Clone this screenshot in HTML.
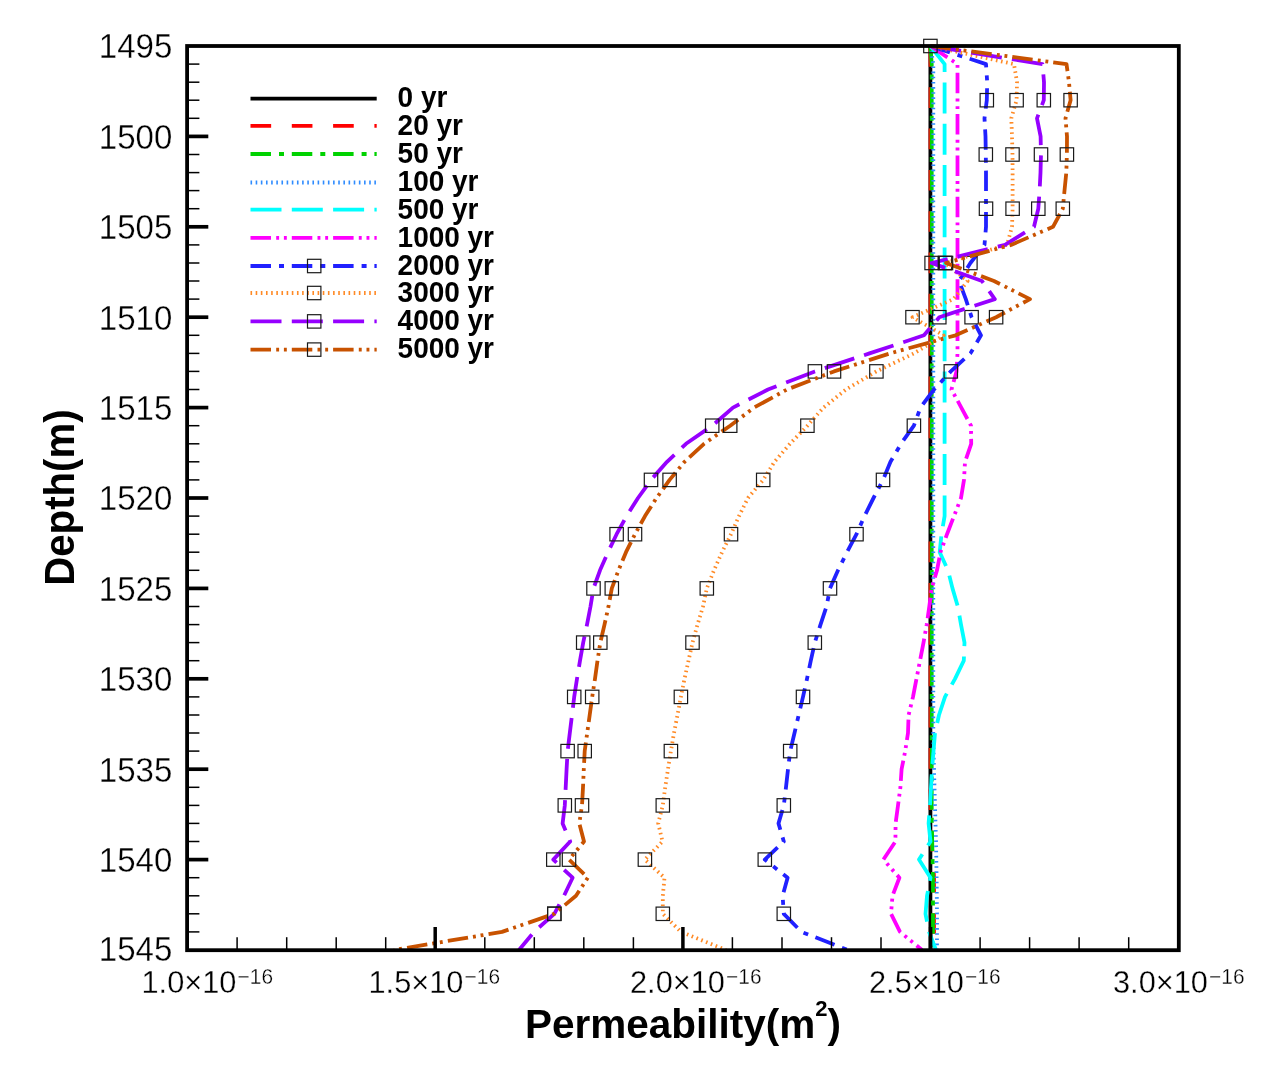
<!DOCTYPE html>
<html lang="en"><head><meta charset="utf-8"><title>Permeability vs Depth</title>
<style>html,body{margin:0;padding:0;background:#fff}svg{display:block}text{font-family:"Liberation Sans",sans-serif;fill:#000}.tk{font-size:35.6px;stroke:#fff;stroke-width:.35px}.xk{font-size:31.8px;stroke:#fff;stroke-width:.3px}.sup{font-size:21.6px}.ttl{font-size:40px;font-weight:bold}.lg{font-size:29.2px;font-weight:bold}.ln{fill:none;stroke-linecap:butt;stroke-linejoin:round}.mk{fill:none;stroke:#1a1a1a;stroke-width:1.2}</style></head><body>
<svg width="1274" height="1067" viewBox="0 0 1274 1067">
<rect width="1274" height="1067" fill="#fff"/>
<defs><clipPath id="pc"><rect x="187.1" y="38.0" width="991.7" height="912.2"/></clipPath></defs>
<g clip-path="url(#pc)">
<polyline class="ln" points="930.4,46.0 930.4,64.1 930.4,82.2 930.4,100.2 930.4,118.3 930.4,136.4 930.4,154.5 930.4,172.6 930.4,190.6 930.4,208.7 930.4,226.8 930.4,244.9 930.4,263.0 930.4,281.0 930.4,299.1 930.4,317.2 930.4,335.3 930.4,353.4 930.4,371.4 930.4,389.5 930.4,407.6 930.4,425.7 930.4,443.8 930.4,461.8 930.4,479.9 930.4,498.0 930.4,516.1 930.4,534.2 930.4,552.2 930.4,570.3 930.4,588.4 930.4,606.5 930.4,624.6 930.4,642.6 930.4,660.7 930.4,678.8 930.4,696.9 930.4,715.0 930.4,733.0 930.4,751.1 930.4,769.2 930.4,787.3 930.4,805.4 930.4,823.4 930.4,841.5 930.4,859.6 930.4,877.7 930.4,895.8 930.4,913.8 930.4,931.9 930.4,950.0" stroke="#000000" stroke-width="3.8"/>
<polyline class="ln" points="930.4,46.0 930.5,64.1 930.5,82.2 930.5,100.2 930.5,118.3 930.5,136.4 930.5,154.5 930.5,172.6 930.5,190.6 930.5,208.7 930.5,226.8 930.5,244.9 930.5,263.0 930.5,281.0 930.5,299.1 930.5,317.2 930.5,335.3 930.5,353.4 930.5,371.4 930.5,389.5 930.5,407.6 930.5,425.7 930.5,443.8 930.5,461.8 930.5,479.9 930.5,498.0 930.5,516.1 930.5,534.2 930.5,552.2 930.5,570.3 930.5,588.4 930.5,606.5 930.5,624.6 930.5,642.6 930.5,660.7 930.5,678.8 930.5,696.9 930.5,715.0 930.5,733.0 930.5,751.1 930.5,769.2 930.5,787.3 930.5,805.4 930.6,823.4 931.5,841.5 933.0,859.6 934.0,877.7 934.0,895.8 934.0,913.8 934.0,931.9 934.0,950.0" stroke="#ff0000" stroke-width="3.8" stroke-dasharray="20.65 20.65"/>
<polyline class="ln" points="930.4,46.0 931.7,64.1 931.7,82.2 931.7,100.2 931.7,118.3 931.7,136.4 931.7,154.5 931.7,172.6 931.7,190.6 931.7,208.7 931.7,226.8 931.7,244.9 931.7,263.0 931.7,281.0 931.7,299.1 931.7,317.2 931.7,335.3 931.7,353.4 931.7,371.4 931.7,389.5 931.7,407.6 931.7,425.7 931.7,443.8 931.7,461.8 931.7,479.9 931.7,498.0 931.7,516.1 931.7,534.2 931.7,552.2 931.7,570.3 931.7,588.4 931.7,606.5 931.7,624.6 931.7,642.6 931.7,660.7 931.7,678.8 931.7,696.9 931.7,715.0 931.7,733.0 931.7,751.1 931.7,769.2 931.7,787.3 931.7,805.4 931.9,823.4 932.2,841.5 932.6,859.6 933.0,877.7 933.0,895.8 933.0,913.8 933.0,931.9 933.0,950.0" stroke="#00d200" stroke-width="3.8" stroke-dasharray="20.50 8.00 5.00 7.80"/>
<polyline class="ln" points="930.4,46.0 933.3,64.1 933.3,82.2 933.3,100.2 933.3,118.3 933.3,136.4 933.3,154.5 933.3,172.6 933.3,190.6 933.3,208.7 933.3,226.8 933.3,244.9 933.3,263.0 933.3,281.0 933.3,299.1 933.3,317.2 933.3,335.3 933.3,353.4 933.3,371.4 933.3,389.5 933.3,407.6 933.3,425.7 933.3,443.8 933.3,461.8 933.3,479.9 933.3,498.0 933.3,516.1 933.3,534.2 933.3,552.2 933.3,570.3 933.3,588.4 933.3,606.5 933.3,624.6 933.3,642.6 933.3,660.7 933.3,678.8 933.3,696.9 933.3,715.0 933.3,733.0 933.6,751.1 934.0,769.2 934.5,787.3 935.0,805.4 935.5,823.4 936.0,841.5 936.3,859.6 936.6,877.7 936.8,895.8 937.0,913.8 937.0,931.9 937.0,950.0" stroke="#2f8cff" stroke-width="3.8" stroke-dasharray="1.60 3.56"/>
<polyline class="ln" points="930.4,46.0 944.6,64.1 944.6,82.2 944.6,100.2 944.6,118.3 944.6,136.4 944.6,154.5 944.6,172.6 944.6,190.6 944.6,208.7 944.6,226.8 944.6,244.9 944.6,263.0 944.6,281.0 944.6,299.1 944.6,317.2 944.6,335.3 944.6,353.4 944.6,371.4 944.6,389.5 944.6,407.6 944.6,425.7 944.6,443.8 944.6,461.8 944.6,479.9 944.6,498.0 944.6,516.1 941.5,534.2 939.7,552.2 948.0,570.3 952.5,588.4 957.8,606.5 961.0,624.6 964.5,642.6 963.8,660.7 955.0,678.8 945.0,696.9 939.0,715.0 935.0,733.0 933.5,751.1 932.0,769.2 931.0,787.3 930.0,805.4 928.6,823.4 930.5,841.5 919.0,859.6 930.5,877.7 927.0,895.8 925.5,913.8 929.0,931.9 936.0,950.0" stroke="#00ffff" stroke-width="3.8" stroke-dasharray="31.00 10.30"/>
<polyline class="ln" points="930.4,46.0 957.5,64.1 957.5,82.2 957.5,100.2 957.5,118.3 957.5,136.4 957.5,154.5 957.5,172.6 957.5,190.6 957.5,208.7 957.5,226.8 957.5,244.9 957.5,263.0 957.5,281.0 957.5,299.1 957.5,317.2 957.5,335.3 957.5,353.4 956.5,371.4 951.5,389.5 961.3,407.6 971.0,425.7 971.2,443.8 965.0,461.8 964.0,479.9 961.0,498.0 954.0,516.1 947.0,534.2 940.5,552.2 937.0,570.3 931.7,588.4 929.3,606.5 926.7,624.6 923.5,642.6 920.0,660.7 916.5,678.8 913.0,696.9 908.6,715.0 908.0,733.0 905.2,751.1 901.6,769.2 900.4,787.3 898.0,805.4 895.6,823.4 895.4,841.5 883.4,859.6 899.4,877.7 892.5,895.8 891.0,913.8 900.0,931.9 922.0,950.0" stroke="#ff00ff" stroke-width="3.8" stroke-dasharray="20.50 5.20 2.90 4.80 2.90 5.00"/>
<polyline class="ln" points="930.4,46.0 986.0,64.1 987.2,82.2 986.8,100.2 984.5,118.3 985.5,136.4 985.8,154.5 986.0,172.6 986.0,190.6 986.0,208.7 986.0,226.8 984.5,244.9 970.4,263.0 959.0,281.0 965.8,299.1 971.6,317.2 981.0,335.3 970.4,353.4 950.8,371.4 934.0,389.5 920.5,407.6 913.9,425.7 901.0,443.8 890.5,461.8 883.0,479.9 873.5,498.0 864.5,516.1 856.5,534.2 847.0,552.2 838.0,570.3 830.0,588.4 826.5,606.5 820.5,624.6 814.8,642.6 810.8,660.7 807.0,678.8 803.0,696.9 798.7,715.0 794.5,733.0 790.2,751.1 788.0,769.2 786.0,787.3 783.8,805.4 778.5,823.4 783.8,841.5 764.8,859.6 787.6,877.7 782.6,895.8 783.8,913.8 801.5,931.9 848.0,950.0" stroke="#2121ff" stroke-width="3.8" stroke-dasharray="20.50 8.00 5.00 7.80"/>
<rect class="mk" x="980.1" y="93.5" width="13.4" height="13.4"/>
<rect class="mk" x="979.1" y="147.8" width="13.4" height="13.4"/>
<rect class="mk" x="979.3" y="202.0" width="13.4" height="13.4"/>
<rect class="mk" x="963.7" y="256.3" width="13.4" height="13.4"/>
<rect class="mk" x="964.9" y="310.5" width="13.4" height="13.4"/>
<rect class="mk" x="944.1" y="364.7" width="13.4" height="13.4"/>
<rect class="mk" x="907.2" y="419.0" width="13.4" height="13.4"/>
<rect class="mk" x="876.3" y="473.2" width="13.4" height="13.4"/>
<rect class="mk" x="849.8" y="527.5" width="13.4" height="13.4"/>
<rect class="mk" x="823.3" y="581.7" width="13.4" height="13.4"/>
<rect class="mk" x="808.1" y="635.9" width="13.4" height="13.4"/>
<rect class="mk" x="796.3" y="690.2" width="13.4" height="13.4"/>
<rect class="mk" x="783.5" y="744.4" width="13.4" height="13.4"/>
<rect class="mk" x="777.1" y="798.7" width="13.4" height="13.4"/>
<rect class="mk" x="758.1" y="852.9" width="13.4" height="13.4"/>
<rect class="mk" x="777.1" y="907.1" width="13.4" height="13.4"/>
<polyline class="ln" points="930.4,46.0 1014.0,64.1 1017.0,82.2 1016.6,100.2 1011.3,118.3 1012.0,136.4 1012.5,154.5 1012.6,172.6 1012.6,190.6 1012.6,208.7 1012.0,226.8 1007.0,244.9 945.0,263.0 967.6,281.0 953.5,299.1 912.5,317.2 943.6,335.3 914.0,353.4 876.4,371.4 846.0,389.5 823.5,407.6 807.4,425.7 790.0,443.8 774.5,461.8 763.2,479.9 748.0,498.0 739.0,516.1 731.0,534.2 722.0,552.2 714.0,570.3 706.8,588.4 703.0,606.5 697.5,624.6 692.5,642.6 688.5,660.7 684.5,678.8 680.9,696.9 677.5,715.0 674.0,733.0 670.9,751.1 668.0,769.2 665.2,787.3 662.8,805.4 658.2,823.4 662.5,841.5 644.9,859.6 664.5,877.7 662.8,895.8 662.8,913.8 681.0,931.9 726.0,950.0" stroke="#ff8a26" stroke-width="3.8" stroke-dasharray="1.60 3.56"/>
<rect class="mk" x="1009.9" y="93.5" width="13.4" height="13.4"/>
<rect class="mk" x="1005.8" y="147.8" width="13.4" height="13.4"/>
<rect class="mk" x="1005.9" y="202.0" width="13.4" height="13.4"/>
<rect class="mk" x="938.3" y="256.3" width="13.4" height="13.4"/>
<rect class="mk" x="905.8" y="310.5" width="13.4" height="13.4"/>
<rect class="mk" x="869.7" y="364.7" width="13.4" height="13.4"/>
<rect class="mk" x="800.7" y="419.0" width="13.4" height="13.4"/>
<rect class="mk" x="756.5" y="473.2" width="13.4" height="13.4"/>
<rect class="mk" x="724.3" y="527.5" width="13.4" height="13.4"/>
<rect class="mk" x="700.1" y="581.7" width="13.4" height="13.4"/>
<rect class="mk" x="685.8" y="635.9" width="13.4" height="13.4"/>
<rect class="mk" x="674.2" y="690.2" width="13.4" height="13.4"/>
<rect class="mk" x="664.2" y="744.4" width="13.4" height="13.4"/>
<rect class="mk" x="656.1" y="798.7" width="13.4" height="13.4"/>
<rect class="mk" x="638.2" y="852.9" width="13.4" height="13.4"/>
<rect class="mk" x="656.1" y="907.1" width="13.4" height="13.4"/>
<polyline class="ln" points="930.4,46.0 1042.5,64.1 1044.0,82.2 1043.8,100.2 1037.0,118.3 1040.6,136.4 1041.0,154.5 1040.5,172.6 1039.6,190.6 1038.3,208.7 1034.0,226.8 1005.0,244.9 931.6,263.0 982.0,281.0 994.8,299.1 939.3,317.2 924.0,335.3 869.5,353.4 814.9,371.4 768.0,389.5 733.0,407.6 712.2,425.7 686.0,443.8 667.0,461.8 651.0,479.9 638.0,498.0 626.5,516.1 616.6,534.2 608.0,552.2 600.0,570.3 593.5,588.4 590.5,606.5 587.0,624.6 583.2,642.6 580.0,660.7 577.0,678.8 574.2,696.9 572.0,715.0 569.8,733.0 567.6,751.1 566.6,769.2 565.7,787.3 564.8,805.4 562.6,823.4 570.2,841.5 553.3,859.6 572.6,877.7 564.0,895.8 554.3,913.8 534.0,931.9 519.0,950.0" stroke="#9600ff" stroke-width="3.8" stroke-dasharray="31.00 10.30"/>
<rect class="mk" x="1037.1" y="93.5" width="13.4" height="13.4"/>
<rect class="mk" x="1034.3" y="147.8" width="13.4" height="13.4"/>
<rect class="mk" x="1031.6" y="202.0" width="13.4" height="13.4"/>
<rect class="mk" x="924.9" y="256.3" width="13.4" height="13.4"/>
<rect class="mk" x="932.6" y="310.5" width="13.4" height="13.4"/>
<rect class="mk" x="808.2" y="364.7" width="13.4" height="13.4"/>
<rect class="mk" x="705.5" y="419.0" width="13.4" height="13.4"/>
<rect class="mk" x="644.3" y="473.2" width="13.4" height="13.4"/>
<rect class="mk" x="609.9" y="527.5" width="13.4" height="13.4"/>
<rect class="mk" x="586.8" y="581.7" width="13.4" height="13.4"/>
<rect class="mk" x="576.5" y="635.9" width="13.4" height="13.4"/>
<rect class="mk" x="567.5" y="690.2" width="13.4" height="13.4"/>
<rect class="mk" x="560.9" y="744.4" width="13.4" height="13.4"/>
<rect class="mk" x="558.1" y="798.7" width="13.4" height="13.4"/>
<rect class="mk" x="546.6" y="852.9" width="13.4" height="13.4"/>
<rect class="mk" x="547.6" y="907.1" width="13.4" height="13.4"/>
<polyline class="ln" points="930.4,46.0 1066.5,64.1 1069.0,82.2 1070.6,100.2 1065.5,118.3 1067.0,136.4 1066.9,154.5 1066.3,172.6 1064.5,190.6 1062.8,208.7 1053.0,226.8 1011.0,244.9 946.0,263.0 994.0,281.0 1030.0,299.1 996.1,317.2 955.6,335.3 890.0,353.4 834.0,371.4 787.0,389.5 754.0,407.6 730.2,425.7 704.0,443.8 684.5,461.8 669.6,479.9 656.5,498.0 645.0,516.1 635.0,534.2 626.0,552.2 618.5,570.3 611.8,588.4 608.5,606.5 604.5,624.6 600.3,642.6 597.5,660.7 595.0,678.8 592.2,696.9 589.7,715.0 587.2,733.0 584.7,751.1 583.8,769.2 583.0,787.3 582.0,805.4 579.3,823.4 584.0,841.5 569.0,859.6 587.8,877.7 576.0,895.8 554.3,913.8 502.0,931.9 394.0,950.0" stroke="#c85200" stroke-width="3.8" stroke-dasharray="20.50 5.20 2.90 4.80 2.90 5.00"/>
<rect class="mk" x="923.7" y="39.3" width="13.4" height="13.4"/>
<rect class="mk" x="1063.9" y="93.5" width="13.4" height="13.4"/>
<rect class="mk" x="1060.2" y="147.8" width="13.4" height="13.4"/>
<rect class="mk" x="1056.1" y="202.0" width="13.4" height="13.4"/>
<rect class="mk" x="939.3" y="256.3" width="13.4" height="13.4"/>
<rect class="mk" x="989.4" y="310.5" width="13.4" height="13.4"/>
<rect class="mk" x="827.3" y="364.7" width="13.4" height="13.4"/>
<rect class="mk" x="723.5" y="419.0" width="13.4" height="13.4"/>
<rect class="mk" x="662.9" y="473.2" width="13.4" height="13.4"/>
<rect class="mk" x="628.3" y="527.5" width="13.4" height="13.4"/>
<rect class="mk" x="605.1" y="581.7" width="13.4" height="13.4"/>
<rect class="mk" x="593.6" y="635.9" width="13.4" height="13.4"/>
<rect class="mk" x="585.5" y="690.2" width="13.4" height="13.4"/>
<rect class="mk" x="578.0" y="744.4" width="13.4" height="13.4"/>
<rect class="mk" x="575.3" y="798.7" width="13.4" height="13.4"/>
<rect class="mk" x="562.3" y="852.9" width="13.4" height="13.4"/>
<rect class="mk" x="547.6" y="907.1" width="13.4" height="13.4"/>
</g>
<g stroke="#000" fill="none">
<line x1="187.1" y1="64.1" x2="199.4" y2="64.1" stroke-width="1.5"/>
<line x1="187.1" y1="82.2" x2="199.4" y2="82.2" stroke-width="1.5"/>
<line x1="187.1" y1="100.2" x2="199.4" y2="100.2" stroke-width="1.5"/>
<line x1="187.1" y1="118.3" x2="199.4" y2="118.3" stroke-width="1.5"/>
<line x1="187.1" y1="136.4" x2="208.3" y2="136.4" stroke-width="3.7"/>
<line x1="187.1" y1="154.5" x2="199.4" y2="154.5" stroke-width="1.5"/>
<line x1="187.1" y1="172.6" x2="199.4" y2="172.6" stroke-width="1.5"/>
<line x1="187.1" y1="190.6" x2="199.4" y2="190.6" stroke-width="1.5"/>
<line x1="187.1" y1="208.7" x2="199.4" y2="208.7" stroke-width="1.5"/>
<line x1="187.1" y1="226.8" x2="208.3" y2="226.8" stroke-width="3.7"/>
<line x1="187.1" y1="244.9" x2="199.4" y2="244.9" stroke-width="1.5"/>
<line x1="187.1" y1="263.0" x2="199.4" y2="263.0" stroke-width="1.5"/>
<line x1="187.1" y1="281.0" x2="199.4" y2="281.0" stroke-width="1.5"/>
<line x1="187.1" y1="299.1" x2="199.4" y2="299.1" stroke-width="1.5"/>
<line x1="187.1" y1="317.2" x2="208.3" y2="317.2" stroke-width="3.7"/>
<line x1="187.1" y1="335.3" x2="199.4" y2="335.3" stroke-width="1.5"/>
<line x1="187.1" y1="353.4" x2="199.4" y2="353.4" stroke-width="1.5"/>
<line x1="187.1" y1="371.4" x2="199.4" y2="371.4" stroke-width="1.5"/>
<line x1="187.1" y1="389.5" x2="199.4" y2="389.5" stroke-width="1.5"/>
<line x1="187.1" y1="407.6" x2="208.3" y2="407.6" stroke-width="3.7"/>
<line x1="187.1" y1="425.7" x2="199.4" y2="425.7" stroke-width="1.5"/>
<line x1="187.1" y1="443.8" x2="199.4" y2="443.8" stroke-width="1.5"/>
<line x1="187.1" y1="461.8" x2="199.4" y2="461.8" stroke-width="1.5"/>
<line x1="187.1" y1="479.9" x2="199.4" y2="479.9" stroke-width="1.5"/>
<line x1="187.1" y1="498.0" x2="208.3" y2="498.0" stroke-width="3.7"/>
<line x1="187.1" y1="516.1" x2="199.4" y2="516.1" stroke-width="1.5"/>
<line x1="187.1" y1="534.2" x2="199.4" y2="534.2" stroke-width="1.5"/>
<line x1="187.1" y1="552.2" x2="199.4" y2="552.2" stroke-width="1.5"/>
<line x1="187.1" y1="570.3" x2="199.4" y2="570.3" stroke-width="1.5"/>
<line x1="187.1" y1="588.4" x2="208.3" y2="588.4" stroke-width="3.7"/>
<line x1="187.1" y1="606.5" x2="199.4" y2="606.5" stroke-width="1.5"/>
<line x1="187.1" y1="624.6" x2="199.4" y2="624.6" stroke-width="1.5"/>
<line x1="187.1" y1="642.6" x2="199.4" y2="642.6" stroke-width="1.5"/>
<line x1="187.1" y1="660.7" x2="199.4" y2="660.7" stroke-width="1.5"/>
<line x1="187.1" y1="678.8" x2="208.3" y2="678.8" stroke-width="3.7"/>
<line x1="187.1" y1="696.9" x2="199.4" y2="696.9" stroke-width="1.5"/>
<line x1="187.1" y1="715.0" x2="199.4" y2="715.0" stroke-width="1.5"/>
<line x1="187.1" y1="733.0" x2="199.4" y2="733.0" stroke-width="1.5"/>
<line x1="187.1" y1="751.1" x2="199.4" y2="751.1" stroke-width="1.5"/>
<line x1="187.1" y1="769.2" x2="208.3" y2="769.2" stroke-width="3.7"/>
<line x1="187.1" y1="787.3" x2="199.4" y2="787.3" stroke-width="1.5"/>
<line x1="187.1" y1="805.4" x2="199.4" y2="805.4" stroke-width="1.5"/>
<line x1="187.1" y1="823.4" x2="199.4" y2="823.4" stroke-width="1.5"/>
<line x1="187.1" y1="841.5" x2="199.4" y2="841.5" stroke-width="1.5"/>
<line x1="187.1" y1="859.6" x2="208.3" y2="859.6" stroke-width="3.7"/>
<line x1="187.1" y1="877.7" x2="199.4" y2="877.7" stroke-width="1.5"/>
<line x1="187.1" y1="895.8" x2="199.4" y2="895.8" stroke-width="1.5"/>
<line x1="187.1" y1="913.8" x2="199.4" y2="913.8" stroke-width="1.5"/>
<line x1="187.1" y1="931.9" x2="199.4" y2="931.9" stroke-width="1.5"/>
<line x1="237.1" y1="950.2" x2="237.1" y2="937.2" stroke-width="1.5"/>
<line x1="286.7" y1="950.2" x2="286.7" y2="937.2" stroke-width="1.5"/>
<line x1="336.2" y1="950.2" x2="336.2" y2="937.2" stroke-width="1.5"/>
<line x1="385.7" y1="950.2" x2="385.7" y2="937.2" stroke-width="1.5"/>
<line x1="435.2" y1="950.2" x2="435.2" y2="927.0" stroke-width="3.5"/>
<line x1="484.8" y1="950.2" x2="484.8" y2="937.2" stroke-width="1.5"/>
<line x1="534.3" y1="950.2" x2="534.3" y2="937.2" stroke-width="1.5"/>
<line x1="583.8" y1="950.2" x2="583.8" y2="937.2" stroke-width="1.5"/>
<line x1="633.4" y1="950.2" x2="633.4" y2="937.2" stroke-width="1.5"/>
<line x1="682.9" y1="950.2" x2="682.9" y2="927.0" stroke-width="3.5"/>
<line x1="732.4" y1="950.2" x2="732.4" y2="937.2" stroke-width="1.5"/>
<line x1="782.0" y1="950.2" x2="782.0" y2="937.2" stroke-width="1.5"/>
<line x1="831.5" y1="950.2" x2="831.5" y2="937.2" stroke-width="1.5"/>
<line x1="881.0" y1="950.2" x2="881.0" y2="937.2" stroke-width="1.5"/>
<line x1="930.6" y1="950.2" x2="930.6" y2="927.0" stroke-width="3.5"/>
<line x1="980.1" y1="950.2" x2="980.1" y2="937.2" stroke-width="1.5"/>
<line x1="1029.6" y1="950.2" x2="1029.6" y2="937.2" stroke-width="1.5"/>
<line x1="1079.1" y1="950.2" x2="1079.1" y2="937.2" stroke-width="1.5"/>
<line x1="1128.7" y1="950.2" x2="1128.7" y2="937.2" stroke-width="1.5"/>
<rect x="187.1" y="46.0" width="991.7" height="904.2" stroke-width="3.8"/>
</g>
<text class="tk" transform="translate(172.3,58.4) scale(0.928,1)" text-anchor="end">1495</text>
<text class="tk" transform="translate(172.3,148.8) scale(0.928,1)" text-anchor="end">1500</text>
<text class="tk" transform="translate(172.3,239.2) scale(0.928,1)" text-anchor="end">1505</text>
<text class="tk" transform="translate(172.3,329.6) scale(0.928,1)" text-anchor="end">1510</text>
<text class="tk" transform="translate(172.3,420.0) scale(0.928,1)" text-anchor="end">1515</text>
<text class="tk" transform="translate(172.3,510.4) scale(0.928,1)" text-anchor="end">1520</text>
<text class="tk" transform="translate(172.3,600.8) scale(0.928,1)" text-anchor="end">1525</text>
<text class="tk" transform="translate(172.3,691.2) scale(0.928,1)" text-anchor="end">1530</text>
<text class="tk" transform="translate(172.3,781.6) scale(0.928,1)" text-anchor="end">1535</text>
<text class="tk" transform="translate(172.3,872.0) scale(0.928,1)" text-anchor="end">1540</text>
<text class="tk" transform="translate(172.3,961.4) scale(0.928,1)" text-anchor="end">1545</text>
<text class="xk" transform="translate(141.5,993.3) scale(0.967,1)">1.0×10<tspan class="sup" dx="1.3" dy="-9.6">−16</tspan></text>
<text class="xk" transform="translate(368.5,993.3) scale(0.967,1)">1.5×10<tspan class="sup" dx="1.3" dy="-9.6">−16</tspan></text>
<text class="xk" transform="translate(630.0,993.3) scale(0.967,1)">2.0×10<tspan class="sup" dx="1.3" dy="-9.6">−16</tspan></text>
<text class="xk" transform="translate(869.0,993.3) scale(0.967,1)">2.5×10<tspan class="sup" dx="1.3" dy="-9.6">−16</tspan></text>
<text class="xk" transform="translate(1113.0,993.3) scale(0.967,1)">3.0×10<tspan class="sup" dx="1.3" dy="-9.6">−16</tspan></text>
<text class="ttl" style="font-size:40.5px" x="683" y="1038.3" text-anchor="middle">Permeability(m<tspan style="font-size:22px" dy="-22.3">2</tspan><tspan dy="22.3">)</tspan></text>
<text class="ttl" style="font-size:42px" transform="translate(74.2,497.6) rotate(-90) scale(0.957,1)" text-anchor="middle">Depth(m)</text>
<line class="ln" x1="250.5" y1="98.7" x2="376.7" y2="98.7" stroke="#000000" stroke-width="3.8"/>
<text class="lg" transform="translate(397.6,107.1) scale(0.958,1)">0 yr</text>
<line class="ln" x1="250.5" y1="125.8" x2="376.7" y2="125.8" stroke="#ff0000" stroke-width="3.8" stroke-dasharray="20.65 20.65"/>
<text class="lg" transform="translate(397.6,135.0) scale(0.958,1)">20 yr</text>
<line class="ln" x1="250.5" y1="154.0" x2="376.7" y2="154.0" stroke="#00d200" stroke-width="3.8" stroke-dasharray="20.50 8.00 5.00 7.80"/>
<text class="lg" transform="translate(397.6,162.9) scale(0.958,1)">50 yr</text>
<line class="ln" x1="250.5" y1="182.5" x2="376.7" y2="182.5" stroke="#2f8cff" stroke-width="3.8" stroke-dasharray="1.60 3.56"/>
<text class="lg" transform="translate(397.6,190.8) scale(0.958,1)">100 yr</text>
<line class="ln" x1="250.5" y1="209.7" x2="376.7" y2="209.7" stroke="#00ffff" stroke-width="3.8" stroke-dasharray="31.00 10.30"/>
<text class="lg" transform="translate(397.6,218.7) scale(0.958,1)">500 yr</text>
<line class="ln" x1="250.5" y1="237.9" x2="376.7" y2="237.9" stroke="#ff00ff" stroke-width="3.8" stroke-dasharray="20.50 5.20 2.90 4.80 2.90 5.00"/>
<text class="lg" transform="translate(397.6,246.6) scale(0.958,1)">1000 yr</text>
<line class="ln" x1="250.5" y1="266.0" x2="376.7" y2="266.0" stroke="#2121ff" stroke-width="3.8" stroke-dasharray="20.50 8.00 5.00 7.80"/>
<rect class="mk" x="307.5" y="259.3" width="13.4" height="13.4"/>
<text class="lg" transform="translate(397.6,274.5) scale(0.958,1)">2000 yr</text>
<line class="ln" x1="250.5" y1="293.0" x2="376.7" y2="293.0" stroke="#ff8a26" stroke-width="3.8" stroke-dasharray="1.60 3.56"/>
<rect class="mk" x="307.5" y="286.3" width="13.4" height="13.4"/>
<text class="lg" transform="translate(397.6,302.4) scale(0.958,1)">3000 yr</text>
<line class="ln" x1="250.5" y1="321.4" x2="376.7" y2="321.4" stroke="#9600ff" stroke-width="3.8" stroke-dasharray="31.00 10.30"/>
<rect class="mk" x="307.5" y="314.7" width="13.4" height="13.4"/>
<text class="lg" transform="translate(397.6,330.3) scale(0.958,1)">4000 yr</text>
<line class="ln" x1="250.5" y1="349.6" x2="376.7" y2="349.6" stroke="#c85200" stroke-width="3.8" stroke-dasharray="20.50 5.20 2.90 4.80 2.90 5.00"/>
<rect class="mk" x="307.5" y="342.9" width="13.4" height="13.4"/>
<text class="lg" transform="translate(397.6,358.2) scale(0.958,1)">5000 yr</text>
</svg></body></html>
